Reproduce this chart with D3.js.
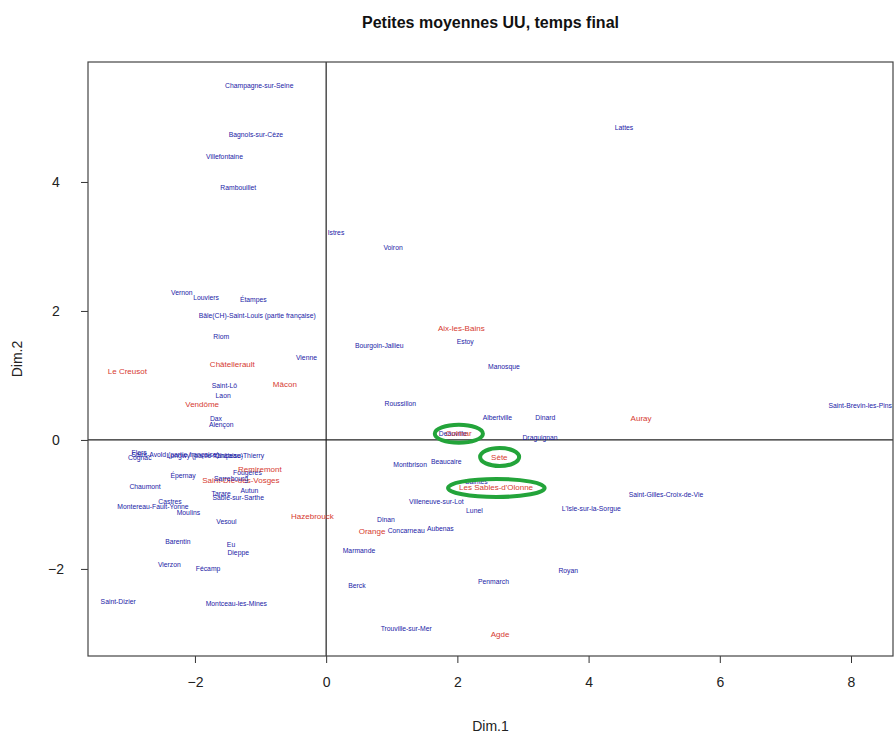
<!DOCTYPE html>
<html><head><meta charset="utf-8">
<script src="https://cdn.jsdelivr.net/npm/d3@7"></script>
<style>body{margin:0;background:#fff}svg{display:block}</style>
</head><body>
<svg id="chart" width="896" height="738"></svg>
<script>
const cityNames = ["Champagne-sur-Seine","Bagnols-sur-Cèze","Villefontaine","Rambouillet","Istres","Voiron","Lattes",
 "Vernon","Louviers","Étampes","Bâle(CH)-Saint-Louis (partie française)","Riom","Vienne","Le Creusot","Châtellerault","Mâcon",
 "Saint-Lô","Laon","Vendôme","Dax","Alençon",
 "Flers","Cognac","Saint-Avold (partie française)","Longwy (partie française)","Château-Thierry",
 "Épernay","Chaumont","Fougères","Remiremont","Saint-Dié-des-Vosges","Sarrebourg","Tarare","Autun","Sablé-sur-Sarthe",
 "Castres","Montereau-Fault-Yonne","Moulins","Vesoul","Hazebrouck","Barentin","Eu","Dieppe","Vierzon","Fécamp",
 "Saint-Dizier","Montceau-les-Mines",
 "Bourgoin-Jallieu","Aix-les-Bains","Estoy","Manosque","Roussillon","Albertville","Dinard","Draguignan","Auray",
 "Saint-Brevin-les-Pins","Deauville","Colmar","Sète","Les Sables-d'Olonne","Saintes","Montbrison","Beaucaire",
 "Villeneuve-sur-Lot","Lunel","L'Isle-sur-la-Sorgue","Saint-Gilles-Croix-de-Vie","Dinan","Orange","Concarneau",
 "Aubenas","Marmande","Royan","Penmarch","Berck","Trouville-sur-Mer","Agde"];
const dim1Values = [-1.02,-1.07,-1.55,-1.34,0.15,1.02,4.54,
 -2.20,-1.83,-1.11,-1.05,-1.60,-0.30,-3.03,-1.43,-0.63,
 -1.55,-1.57,-1.89,-1.68,-1.60,
 -2.85,-2.84,-2.30,-1.85,-1.32,
 -2.18,-2.76,-1.20,-1.01,-1.30,-1.45,-1.60,-1.17,-1.34,
 -2.38,-2.64,-2.10,-1.52,-0.21,-2.26,-1.45,-1.34,-2.39,-1.80,
 -3.17,-1.37,
 0.81,2.06,2.12,2.71,1.13,2.61,3.34,3.26,4.80,
 8.14,1.93,2.02,2.64,2.59,2.29,1.28,1.83,
 1.68,2.26,4.04,5.18,0.91,0.70,1.22,
 1.74,0.50,3.69,2.55,0.47,1.22,2.65];
const dim2Values = [5.49,4.74,4.40,3.91,3.21,2.98,4.84,
 2.29,2.20,2.17,1.92,1.60,1.27,1.07,1.18,0.87,
 0.84,0.68,0.56,0.33,0.24,
 -0.19,-0.27,-0.23,-0.24,-0.25,
 -0.56,-0.73,-0.50,-0.45,-0.62,-0.60,-0.84,-0.78,-0.90,
 -0.95,-1.04,-1.12,-1.26,-1.18,-1.57,-1.63,-1.75,-1.94,-2.00,
 -2.50,-2.54,
 1.46,1.74,1.53,1.13,0.56,0.34,0.34,0.03,0.34,
 0.53,0.10,0.10,-0.26,-0.74,-0.64,-0.39,-0.34,
 -0.96,-1.09,-1.07,-0.85,-1.24,-1.41,-1.41,
 -1.38,-1.72,-2.02,-2.20,-2.26,-2.93,-3.01];
const redCities = ["Le Creusot","Châtellerault","Mâcon","Vendôme","Remiremont","Saint-Dié-des-Vosges","Hazebrouck",
 "Aix-les-Bains","Auray","Colmar","Sète","Les Sables-d'Olonne","Orange","Agde"];
const circledCities = ["Colmar","Sète","Les Sables-d'Olonne"];
const xTicks = [-2,0,2,4,6,8];
const yTicks = [-2,0,2,4];
const xDomain = [-3.63,8.64];
const yDomain = [-3.35,5.86];
const titleText = "Petites moyennes UU, temps final";
const xLabel = "Dim.1", yLabel = "Dim.2";

const svg = d3.select("#chart");
const L=88,R=893,T=62,B=656;
const x = d3.scaleLinear().domain(xDomain).range([L,R]);
const y = d3.scaleLinear().domain(yDomain).range([B,T]);
const font = "'Liberation Sans', Arial, sans-serif";

svg.append("text").attr("x",(L+R)/2).attr("y",28).attr("text-anchor","middle")
 .attr("font-family",font).attr("font-weight","bold").attr("font-size",16).attr("fill","#111").text(titleText);

svg.append("defs").append("clipPath").attr("id","clip").append("rect")
 .attr("x",L).attr("y",T).attr("width",R-L).attr("height",B-T);

// axes
const xAxis = d3.axisBottom(x).tickValues(xTicks).tickSize(7).tickPadding(14).tickFormat(d3.format("d"));
const gx = svg.append("g").attr("transform",`translate(0,${B})`).call(xAxis);
gx.select(".domain").remove();
gx.selectAll("line").attr("stroke","#333");
gx.selectAll("text").attr("font-family",font).attr("font-size",14).attr("fill","#222");

const yAxis = d3.axisLeft(y).tickValues(yTicks).tickSize(7).tickPadding(20).tickFormat(d3.format("d"));
const gy = svg.append("g").attr("transform",`translate(${L},0)`).call(yAxis);
gy.select(".domain").remove();
gy.selectAll("line").attr("stroke","#333");
gy.selectAll(".tick text").attr("font-family",font).attr("font-size",14).attr("fill","#222")
 .attr("text-anchor","middle").attr("x",-32);

svg.append("text").attr("x",(L+R)/2).attr("y",731).attr("text-anchor","middle")
 .attr("font-family",font).attr("font-size",14).attr("fill","#222").text(xLabel);
svg.append("text").attr("transform",`translate(22,${(T+B)/2}) rotate(-90)`).attr("text-anchor","middle")
 .attr("font-family",font).attr("font-size",14).attr("fill","#222").text(yLabel);

// zero lines
const plot = svg.append("g").attr("clip-path","url(#clip)");
plot.append("line").attr("x1",x(0)).attr("x2",x(0)).attr("y1",T).attr("y2",B).attr("stroke","#222").attr("stroke-width",1.2);
plot.append("line").attr("x1",L).attr("x2",R).attr("y1",y(0)).attr("y2",y(0)).attr("stroke","#222").attr("stroke-width",1.2);

const data = cityNames.map((n,i)=>({name:n,d1:dim1Values[i],d2:dim2Values[i],red:redCities.includes(n)}));

const labels = plot.selectAll("text.city").data(data).join("text").attr("class","city")
 .attr("x",d=>x(d.d1)).attr("y",d=>y(d.d2)).attr("dy","0.35em").attr("text-anchor","middle")
 .attr("font-family",font).attr("font-size",d=>d.red?8:6.8)
 .attr("fill",d=>d.red?"#d63a30":"#1a1aa6").text(d=>d.name);

// green ellipses around circled labels
labels.filter(d=>circledCities.includes(d.name)).each(function(d){
  const bb=this.getBBox();
  plot.append("ellipse").attr("cx",bb.x+bb.width/2).attr("cy",bb.y+bb.height/2)
   .attr("rx",bb.width/2+11).attr("ry",bb.height/2+4.5)
   .attr("fill","none").attr("stroke","#23a43a").attr("stroke-width",4);
});

svg.append("rect").attr("x",L).attr("y",T).attr("width",R-L).attr("height",B-T)
 .attr("fill","none").attr("stroke","#444").attr("stroke-width",1.2);
</script>
</body></html>
